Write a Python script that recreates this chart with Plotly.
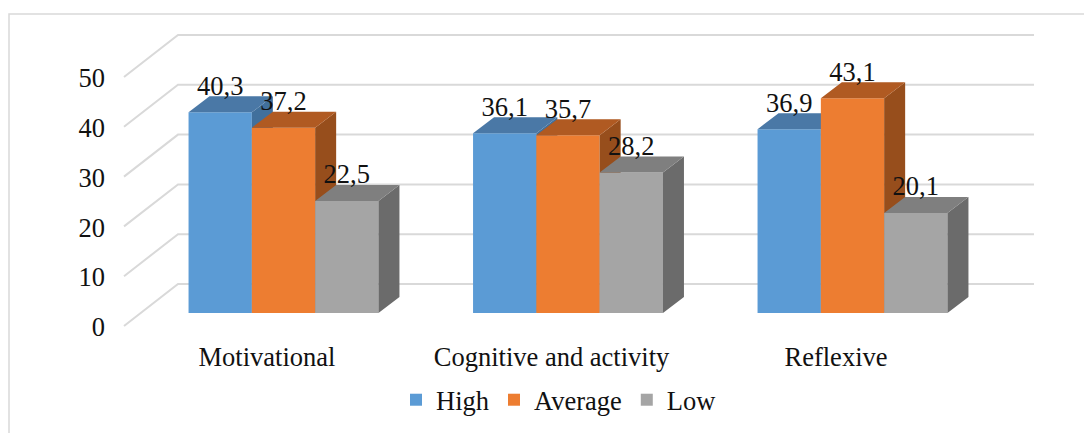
import plotly.graph_objects as go

categories = ["Motivational", "Cognitive and activity", "Reflexive"]
high = [40.3, 36.1, 36.9]
average = [37.2, 35.7, 43.1]
low = [22.5, 28.2, 20.1]
y_ticks = [0, 10, 20, 30, 40, 50]

W, H = 1084, 433
L, R, T, B = 108, 44, 20, 98
PX_X = 284.5      # pixels per category
PX_Y = 4.98       # pixels per value unit
X0_PX = 283.5     # pixel of category 0
Y0_PX = 313       # pixel of value 0 on the front plane
x_range = [(L - X0_PX) / PX_X, (W - R - X0_PX) / PX_X]
y_range = [(Y0_PX - (H - B)) / PX_Y, (Y0_PX - T) / PX_Y]

bar_w = 63.3 / PX_X
dx = 21 / PX_X
dy = 16 / PX_Y
wall_dx0, wall_dx1 = (178 - X0_PX) / PX_X, (1034 - X0_PX) / PX_X
wall_dy = 29 / PX_Y
front_x = (124 - X0_PX) / PX_X
front_dy = -13 / PX_Y
label_shift = 16.5 / PX_X
text_drop = 5 / PX_Y
FONT = "Liberation Serif"
FS = 26.5
GRID = "#d9d9d9"
INK = "#111111"

series = [
    ("High", high, -bar_w, "#5b9bd5", "#4a78a6", "#41709c"),
    ("Average", average, 0.0, "#ed7d31", "#b05a22", "#974e1c"),
    ("Low", low, bar_w, "#a5a5a5", "#7f7f7f", "#6b6b6b"),
]

fig = go.Figure()

for v in y_ticks:
    fig.add_trace(go.Scatter(
        x=[front_x, wall_dx0, wall_dx1], y=[v + front_dy, v + wall_dy, v + wall_dy],
        mode="lines", line=dict(color=GRID, width=2), showlegend=False, hoverinfo="skip",
    ))


def poly(points_by_cat):
    xs, ys = [], []
    for pts in points_by_cat:
        xs += [p[0] for p in pts] + [pts[0][0], None]
        ys += [p[1] for p in pts] + [pts[0][1], None]
    return xs, ys


for k, (name, vals, off, front, top, side) in enumerate(series):
    sfx = str(k + 2)
    xa, ya = "x" + sfx, "y" + sfx
    centers = [i + off for i in range(len(vals))]
    fig.add_trace(go.Bar(
        x=centers, y=vals, width=bar_w, name=name, marker=dict(color=front, line=dict(width=0)),
        xaxis=xa, yaxis=ya,
    ))
    sx, sy = poly([[(c + bar_w / 2, 0), (c + bar_w / 2 + dx, dy), (c + bar_w / 2 + dx, v + dy), (c + bar_w / 2, v)]
                   for c, v in zip(centers, vals)])
    fig.add_trace(go.Scatter(x=sx, y=sy, mode="lines", fill="toself", fillcolor=side,
                             line=dict(width=0, color=side), showlegend=False, hoverinfo="skip",
                             xaxis=xa, yaxis=ya))
    tx, ty = poly([[(c - bar_w / 2, v), (c - bar_w / 2 + dx, v + dy), (c + bar_w / 2 + dx, v + dy), (c + bar_w / 2, v)]
                   for c, v in zip(centers, vals)])
    fig.add_trace(go.Scatter(x=tx, y=ty, mode="lines", fill="toself", fillcolor=top,
                             line=dict(width=0, color=top), showlegend=False, hoverinfo="skip",
                             xaxis=xa, yaxis=ya))
    fig.add_trace(go.Scatter(
        x=centers, y=[v + dy - text_drop for v in vals], mode="text",
        text=[f"{v:.1f}".replace(".", ",") for v in vals], textposition="top center",
        textfont=dict(family=FONT, size=FS, color=INK), showlegend=False, hoverinfo="skip",
        xaxis=xa, yaxis=ya,
    ))

layout = dict(
    width=W, height=H, margin=dict(l=L, r=R, t=T, b=B, autoexpand=False),
    paper_bgcolor="white", plot_bgcolor="white",
    font=dict(family=FONT, size=FS, color=INK),
    xaxis=dict(range=x_range, showgrid=False, zeroline=False, showline=False, ticks="",
               tickmode="array", tickvals=[i - label_shift for i in range(3)], ticktext=categories,
               tickfont=dict(family=FONT, size=FS, color=INK), automargin=False, ticklabelstandoff=3),
    yaxis=dict(range=y_range, showgrid=False, zeroline=False, showline=False, ticks="",
               tickmode="array", tickvals=[v + front_dy - 0.2 for v in y_ticks], ticktext=[str(v) for v in y_ticks],
               tickfont=dict(family=FONT, size=FS, color=INK), automargin=False, ticklabelstandoff=2),
    legend=dict(orientation="h", x=(396 - L) / (W - L - R), xanchor="left", y=-(376 - (H - B)) / (H - T - B),
                yanchor="top", font=dict(family=FONT, size=FS, color=INK), bgcolor="rgba(0,0,0,0)"),
    showlegend=True,
    shapes=[dict(type="rect", xref="paper", yref="paper",
                 x0=(9 - L) / (W - L - R), x1=(1200 - L) / (W - L - R),
                 y0=-(600 - (H - B)) / (H - T - B), y1=((H - B) - 14) / (H - T - B),
                 line=dict(color=GRID, width=1.5), fillcolor="rgba(0,0,0,0)", layer="below")],
)
for k in range(3):
    sfx = str(k + 2)
    layout["xaxis" + sfx] = dict(range=x_range, overlaying="x", visible=False)
    layout["yaxis" + sfx] = dict(range=y_range, overlaying="y", visible=False)
fig.update_layout(**layout)

fig.write_html("out.html", config={"displayModeBar": False},
               post_script="document.body.style.margin='0';document.documentElement.style.overflow='hidden';")
